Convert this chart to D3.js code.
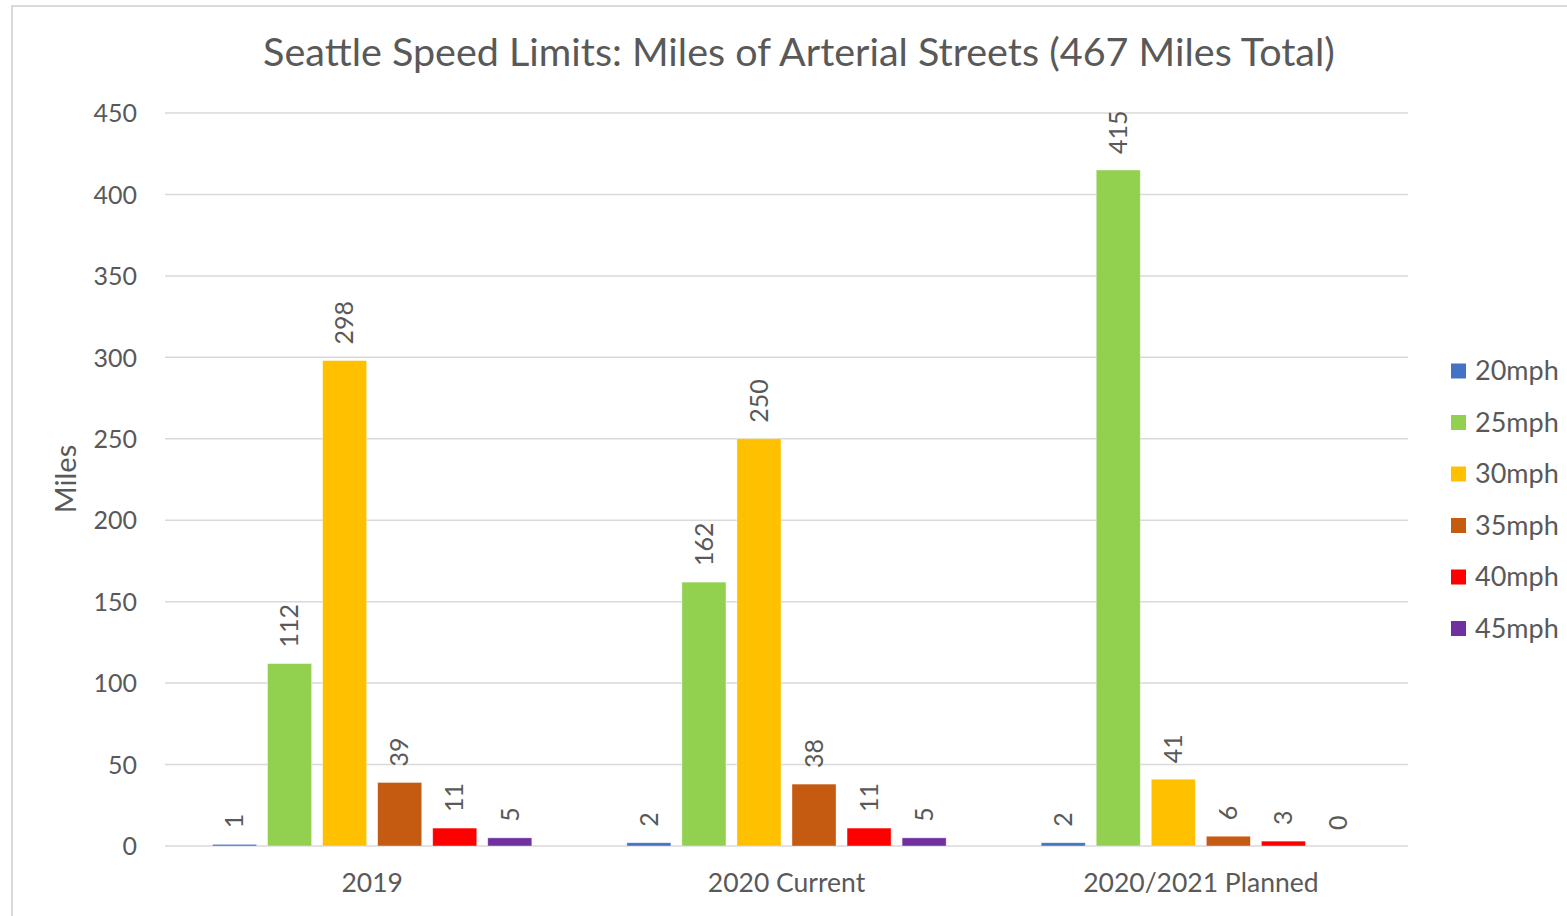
<!DOCTYPE html>
<html>
<head>
<meta charset="utf-8">
<script src="https://cdn.jsdelivr.net/npm/d3@7"></script>
<style>
  html, body { margin: 0; padding: 0; background: #fff; }
  svg { display: block; font-family: "Lato", "Open Sans", sans-serif; }
</style>
</head>
<body>
<svg id="chart" width="1567" height="916"></svg>
<script>
const categories = ["2019", "2020 Current", "2020/2021 Planned"];
const seriesNames = ["20mph", "25mph", "30mph", "35mph", "40mph", "45mph"];
const seriesColors = ["#4472C4", "#92D050", "#FFC000", "#C55A11", "#FF0000", "#7030A0"];
const s20 = [1, 2, 2];
const s25 = [112, 162, 415];
const s30 = [298, 250, 41];
const s35 = [39, 38, 6];
const s40 = [11, 11, 3];
const s45 = [5, 5, 0];
const yTicks = [0, 50, 100, 150, 200, 250, 300, 350, 400, 450];
const titleText = "Seattle Speed Limits: Miles of Arterial Streets (467 Miles Total)";
const yTitle = "Miles";

const seriesValues = [s20, s25, s30, s35, s40, s45];
const textColor = "#595959";
const gridColor = "#d9d9d9";

const svg = d3.select("#chart");
const W = 1567, H = 916;
const plot = { left: 165, right: 1408, top: 113, bottom: 846 };

// outer chart border
svg.append("rect")
  .attr("x", 12).attr("y", 6)
  .attr("width", W + 20).attr("height", H + 20)
  .attr("fill", "none").attr("stroke", gridColor).attr("stroke-width", 2);

const y = d3.scaleLinear().domain([0, 450]).range([plot.bottom, plot.top]);
const x0 = d3.scaleBand().domain(categories).range([plot.left, plot.right]).padding(0);
const gOff = x0.bandwidth() * 0.1147;
const x1 = d3.scaleBand().domain(seriesNames)
  .range([gOff, x0.bandwidth() - gOff]).paddingInner(0.2).paddingOuter(0);

// gridlines
svg.append("g").selectAll("line").data(yTicks).join("line")
  .attr("x1", plot.left).attr("x2", plot.right)
  .attr("y1", d => y(d)).attr("y2", d => y(d))
  .attr("stroke", gridColor).attr("stroke-width", 1.5);

// y axis labels
const yAxis = d3.axisLeft(y).tickValues(yTicks).tickSize(0).tickPadding(0);
const yG = svg.append("g").attr("transform", `translate(${plot.left - 28},0)`).call(yAxis);
yG.select(".domain").remove();
yG.selectAll("text").attr("fill", textColor).attr("font-size", 25)
  .attr("font-family", "Lato, sans-serif").attr("dy", "0.35em");

// x axis labels
const xAxis = d3.axisBottom(x0).tickSize(0).tickPadding(0);
const xG = svg.append("g").attr("transform", `translate(0,${plot.bottom + 27})`).call(xAxis);
xG.select(".domain").remove();
xG.selectAll("text").attr("fill", textColor).attr("font-size", 26.5)
  .attr("font-family", "Lato, sans-serif").attr("dy", "0.7em");

// bars
const rows = [];
categories.forEach((c, ci) => {
  seriesNames.forEach((s, si) => {
    rows.push({ cat: c, series: s, value: seriesValues[si][ci], color: seriesColors[si] });
  });
});

const bars = svg.append("g");
bars.selectAll("rect").data(rows).join("rect")
  .attr("x", d => x0(d.cat) + x1(d.series))
  .attr("y", d => y(d.value))
  .attr("width", x1.bandwidth())
  .attr("height", d => y(0) - y(d.value))
  .attr("fill", d => d.color)
  .attr("stroke", "#ffffff").attr("stroke-opacity", 0.5).attr("stroke-width", 0.75);

// data labels
svg.append("g").selectAll("text").data(rows).join("text")
  .attr("transform", d => {
    const cx = x0(d.cat) + x1(d.series) + x1.bandwidth() / 2;
    const cy = y(d.value) - 16;
    return `translate(${cx},${cy}) rotate(-90)`;
  })
  .attr("text-anchor", "start")
  .attr("dy", "0.35em")
  .attr("fill", textColor)
  .attr("font-size", 25)
  .text(d => d.value);

// title
svg.append("text")
  .attr("x", 799).attr("y", 66)
  .attr("text-anchor", "middle")
  .attr("fill", textColor)
  .attr("font-size", 39.5)
  .text(titleText);

// y-axis title
svg.append("text")
  .attr("transform", `translate(66,479) rotate(-90)`)
  .attr("text-anchor", "middle")
  .attr("dy", "0.35em")
  .attr("fill", textColor)
  .attr("font-size", 29)
  .text(yTitle);

// legend
const legend = svg.append("g").attr("transform", "translate(1451,371)");
const li = legend.selectAll("g").data(seriesNames).join("g")
  .attr("transform", (d, i) => `translate(0,${i * 51.5})`);
li.append("rect").attr("x", 0).attr("y", -7.5).attr("width", 15).attr("height", 15)
  .attr("fill", (d, i) => seriesColors[i]);
li.append("text").attr("x", 24).attr("dy", "0.35em")
  .attr("fill", textColor).attr("font-size", 27).text(d => d);
</script>
</body>
</html>
